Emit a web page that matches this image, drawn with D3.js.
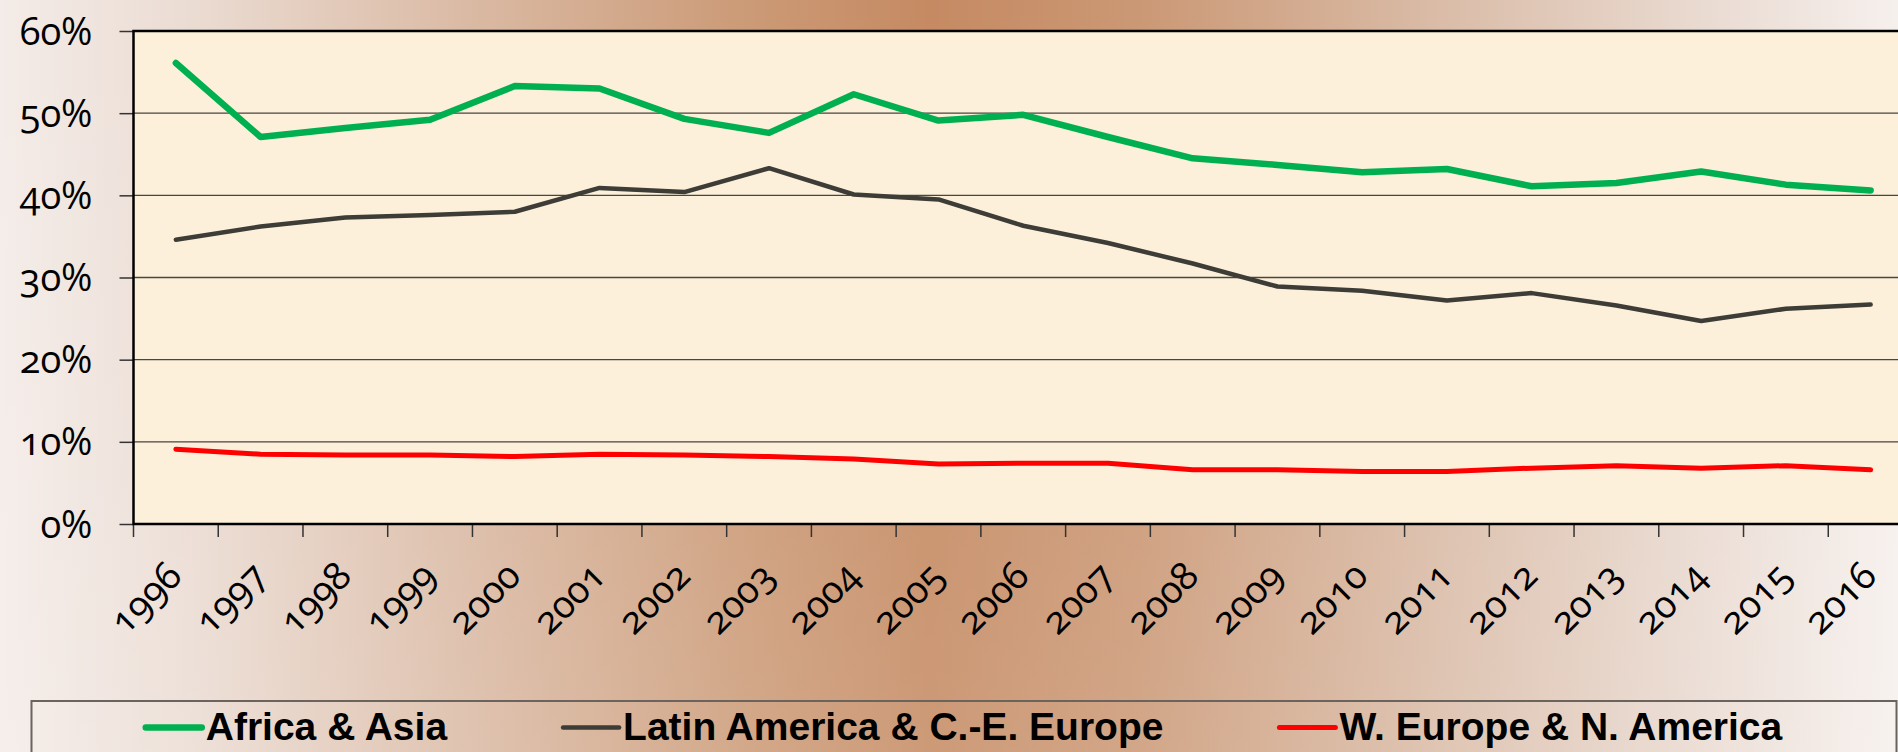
<!DOCTYPE html>
<html>
<head>
<meta charset="utf-8">
<script src="https://cdn.jsdelivr.net/npm/d3@7"></script>
<style>
  html, body { margin: 0; padding: 0; overflow: hidden; }
  .tick-font { font-family: "Open Sans", "Noto Sans", sans-serif; font-feature-settings: "onum" 1; font-variant-numeric: oldstyle-nums; }
</style>
</head>
<body>
<svg id="chart"></svg>
<script>
var windowSize = { width: 1898, height: 752 };

// data (share of total, 0..1)
var years = ["1996","1997","1998","1999","2000","2001","2002","2003","2004","2005","2006",
             "2007","2008","2009","2010","2011","2012","2013","2014","2015","2016"];
var africaAsia = [0.561,0.471,0.482,0.492,0.533,0.530,0.493,0.476,0.523,0.491,0.498,
                  0.471,0.445,0.437,0.428,0.432,0.411,0.415,0.429,0.413,0.406];
var latinCEEurope = [0.346,0.362,0.373,0.376,0.380,0.409,0.404,0.433,0.401,0.395,0.363,
                     0.342,0.317,0.289,0.284,0.272,0.281,0.266,0.247,0.262,0.267];
var westNorth = [0.091,0.085,0.084,0.084,0.082,0.085,0.084,0.082,0.079,0.073,0.074,
                 0.074,0.066,0.066,0.064,0.064,0.068,0.071,0.068,0.071,0.066];
var yTicks = [0, 0.1, 0.2, 0.3, 0.4, 0.5, 0.6];
var seriesNames = ["Africa & Asia", "Latin America & C.-E. Europe", "W. Europe & N. America"];
var seriesColors = ["#00b050", "#3d3c36", "#ff0000"];
var seriesWidths = [6.5, 4.5, 5];

var plot = { left: 133.5, top: 31, bottom: 524, right: 1913 };

var svg = d3.select("#chart")
  .attr("width", windowSize.width)
  .attr("height", windowSize.height);

// background gradient
var defs = svg.append("defs");
var bg = defs.append("linearGradient").attr("id", "bg")
  .attr("x1", "0").attr("y1", "0").attr("x2", "1").attr("y2", "0");
[[0, "#f4ece8"], [0.1, "#ebdcd3"], [0.25, "#dab9a3"], [0.4, "#cb9975"], [0.49, "#c58a62"],
 [0.6, "#cb9875"], [0.75, "#d9baa5"], [0.9, "#eadbd2"], [1, "#f6f0ed"]].forEach(function(s) {
  bg.append("stop").attr("offset", s[0]).attr("stop-color", s[1]);
});
var fade = defs.append("linearGradient").attr("id", "fade")
  .attr("x1", "0").attr("y1", "0").attr("x2", "0").attr("y2", "1");
fade.append("stop").attr("offset", 0).attr("stop-color", "#fff").attr("stop-opacity", 0);
fade.append("stop").attr("offset", 1).attr("stop-color", "#fff").attr("stop-opacity", 0.14);

svg.append("rect").attr("width", windowSize.width).attr("height", windowSize.height).attr("fill", "url(#bg)");
svg.append("rect").attr("width", windowSize.width).attr("height", windowSize.height).attr("fill", "url(#fade)");

var x = d3.scaleBand().domain(years).range([plot.left, plot.right]).padding(0);
var y = d3.scaleLinear().domain([0, 0.6]).range([plot.bottom, plot.top]);
var cx = function(d) { return x(d) + x.bandwidth() / 2; };

// plot area
svg.append("rect")
  .attr("x", plot.left).attr("y", plot.top)
  .attr("width", plot.right - plot.left).attr("height", plot.bottom - plot.top)
  .attr("fill", "#fcf0da");

// grid lines
svg.append("g").selectAll("line")
  .data(yTicks.slice(1, -1))
  .enter().append("line")
    .attr("x1", plot.left).attr("x2", plot.right)
    .attr("y1", function(d) { return y(d); })
    .attr("y2", function(d) { return y(d); })
    .attr("stroke", "#4a4540")
    .attr("stroke-width", 1.3);

// y axis
var yAxis = d3.axisLeft(y).tickValues(yTicks).tickSize(14).tickPadding(27)
  .tickFormat(function(d) { return Math.round(d * 100) + "%"; });
var gy = svg.append("g").attr("transform", "translate(" + plot.left + ",0)").call(yAxis);
gy.select(".domain").remove();
gy.selectAll(".tick line").attr("stroke", "#333").attr("stroke-width", 1.5);
gy.selectAll(".tick text")
  .attr("class", "tick-font")
  .attr("font-size", 38)
  .attr("fill", "#000")
  .attr("dy", 13);

// x axis tick marks sit on category edges
svg.append("g").selectAll("line")
  .data(years)
  .enter().append("line")
    .attr("x1", function(d) { return x(d); })
    .attr("x2", function(d) { return x(d); })
    .attr("y1", plot.bottom).attr("y2", plot.bottom + 13)
    .attr("stroke", "#333").attr("stroke-width", 1.5);

svg.append("g").selectAll("text")
  .data(years)
  .enter().append("text")
    .attr("class", "tick-font")
    .attr("font-size", 38)
    .attr("text-anchor", "end")
    .attr("transform", function(d) { return "translate(" + (cx(d) + 8) + "," + (plot.bottom + 54) + ") rotate(-45)"; })
    .text(function(d) { return d; });

// plot border
svg.append("rect")
  .attr("x", plot.left).attr("y", plot.top)
  .attr("width", plot.right - plot.left).attr("height", plot.bottom - plot.top)
  .attr("fill", "none").attr("stroke", "#000").attr("stroke-width", 2.5);

// lines
var allSeries = [africaAsia, latinCEEurope, westNorth];
var line = d3.line()
  .x(function(d, i) { return cx(years[i]); })
  .y(function(d) { return y(d); });

svg.append("g").selectAll("path")
  .data(allSeries)
  .enter().append("path")
    .attr("d", line)
    .attr("fill", "none")
    .attr("stroke", function(d, i) { return seriesColors[i]; })
    .attr("stroke-width", function(d, i) { return seriesWidths[i]; })
    .attr("stroke-linejoin", "round")
    .attr("stroke-linecap", "round");

// legend
svg.append("rect")
  .attr("x", 31.5).attr("y", 701)
  .attr("width", 1865).attr("height", 80)
  .attr("fill", "none").attr("stroke", "#6b635d").attr("stroke-width", 2);

var legend = svg.append("g");
var items = legend.selectAll("g")
  .data(seriesNames)
  .enter().append("g");
items.append("line")
  .attr("x1", 0).attr("x2", 56).attr("y1", 727.5).attr("y2", 727.5)
  .attr("stroke", function(d, i) { return seriesColors[i]; })
  .attr("stroke-width", function(d, i) { return seriesWidths[i]; })
  .attr("stroke-linecap", "round");
items.append("text")
  .attr("x", 60).attr("y", 740)
  .attr("font-family", "'Liberation Sans', Arial, sans-serif")
  .attr("font-weight", "bold")
  .attr("font-size", 39)
  .attr("fill", "#000")
  .text(function(d) { return d; });

var offsets = [], pos = 0;
items.each(function() {
  offsets.push(pos);
  pos += 60 + this.querySelector("text").getComputedTextLength() + 116;
});
var total = pos - 116;
var start = (31.5 + 1896.5) / 2 - total / 2;
items.attr("transform", function(d, i) { return "translate(" + (start + offsets[i]) + ",0)"; });
</script>
</body>
</html>
